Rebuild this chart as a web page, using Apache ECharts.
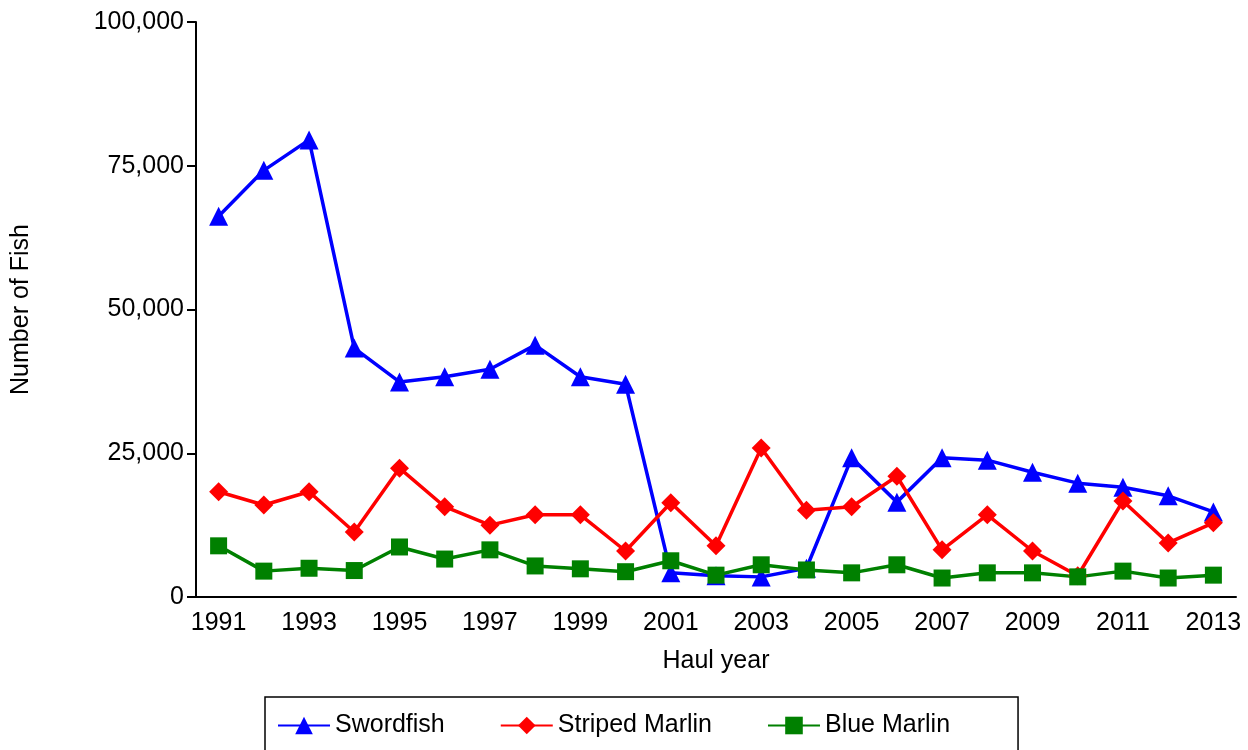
<!DOCTYPE html>
<html><head><meta charset="utf-8">
<script src="https://cdn.jsdelivr.net/npm/echarts@6/dist/echarts.min.js"></script>
<style>html,body{margin:0;background:#fff}#c{width:1248px;height:750px}</style>
</head><body><div id="c"></div>
<script>
var years = [];
for (var y = 1991; y <= 2013; y++) years.push(String(y));
var swordfish = [66200,74200,79500,43300,37400,38300,39600,43800,38300,37000,4200,3700,3500,5000,24200,16500,24200,23800,21700,19800,19100,17600,14800];
var stripedMarlin = [18300,16000,18300,11300,22400,15700,12500,14300,14300,8000,16400,8900,25900,15100,15700,21000,8200,14300,8000,3700,16700,9400,12900];
var blueMarlin = [8900,4500,5000,4600,8700,6600,8200,5400,4900,4400,6300,3800,5600,4700,4200,5600,3300,4200,4200,3500,4500,3300,3800];

var font = 'Liberation Sans, Arial, sans-serif';
function line(name, data, color, symbol, size) {
	return {
		name: name, type: 'line', data: data, symbol: symbol, symbolSize: size,
		lineStyle: {color: color, width: 3.5}, itemStyle: {color: color}
	};
}
var chart = echarts.init(document.getElementById('c'));
chart.setOption({
	animation: false,
	grid: {left: 196, top: 22, right: 12, bottom: 153},
	xAxis: {
		type: 'category', data: years, boundaryGap: true,
		name: 'Haul year', nameLocation: 'middle', nameGap: 52,
		nameTextStyle: {fontFamily: font, fontSize: 25, color: '#000'},
		axisLine: {lineStyle: {color: '#000', width: 2}},
		axisTick: {show: false},
		axisLabel: {interval: 1, fontFamily: font, fontSize: 25, color: '#000', margin: 14}
	},
	yAxis: {
		type: 'value', min: 0, max: 100000, interval: 25000,
		name: 'Number of Fish', nameLocation: 'middle', nameGap: 162,
		nameTextStyle: {fontFamily: font, fontSize: 25, color: '#000'},
		axisLine: {show: true, lineStyle: {color: '#000', width: 2}},
		axisTick: {show: true, length: 9, lineStyle: {color: '#000', width: 2}},
		splitLine: {show: false},
		axisLabel: {fontFamily: font, fontSize: 25, color: '#000', margin: 12,
			formatter: function (v) { return v.toLocaleString('en-US'); }}
	},
	legend: {
		bottom: -4, left: 265, width: 800, itemGap: 55, padding: [16, 68, 16, 12],
		borderColor: '#000', borderWidth: 1.5, itemWidth: 52, itemHeight: 22,
		textStyle: {fontFamily: font, fontSize: 25, color: '#000'},
		data: ['Swordfish', 'Striped Marlin', 'Blue Marlin']
	},
	series: [
		line('Swordfish', swordfish, '#0000ff', 'triangle', 19),
		line('Striped Marlin', stripedMarlin, '#ff0000', 'diamond', 19),
		line('Blue Marlin', blueMarlin, '#008000', 'rect', 17)
	]
});
</script></body></html>
